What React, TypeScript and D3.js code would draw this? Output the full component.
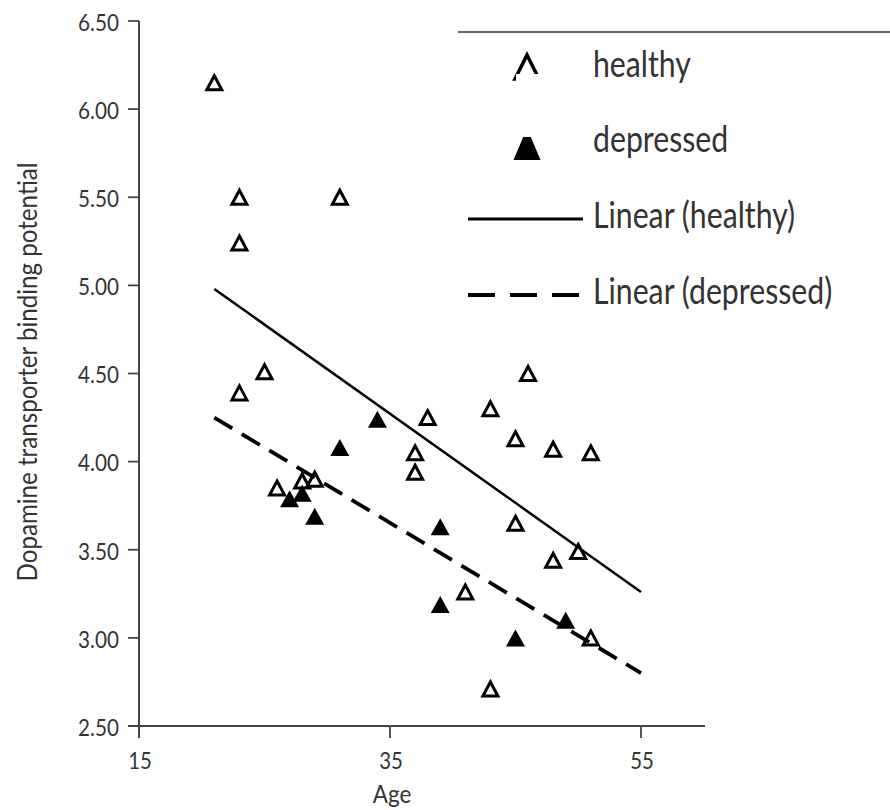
import React from "react";
import * as d3 from "d3";

const healthyAge = [21, 23, 23, 31, 23, 25, 26, 28, 29, 38, 43, 37, 37, 45, 48, 51, 45, 48, 50, 41, 51, 43, 46];
const healthyBP = [6.15, 5.5, 5.24, 5.5, 4.39, 4.51, 3.85, 3.89, 3.9, 4.25, 4.3, 4.05, 3.94, 4.13, 4.07, 4.05, 3.65, 3.44, 3.49, 3.26, 3.0, 2.71, 4.5];

const depressedAge = [34, 39, 39, 45, 49, 31, 27, 28, 29];
const depressedBP = [4.24, 3.63, 3.19, 3.0, 3.1, 4.08, 3.79, 3.82, 3.69];

// trendline endpoints [age, value]
const healthyTrend: [number, number][] = [[21, 4.98], [55, 3.26]];
const depressedTrend: [number, number][] = [[21, 4.25], [55, 2.8]];

const yTickValues = [2.5, 3.0, 3.5, 4.0, 4.5, 5.0, 5.5, 6.0, 6.5];
const xTickValues = [15, 35, 55];

const legendLabels = ["healthy", "depressed", "Linear (healthy)", "Linear (depressed)"];
const xTitle = "Age";
const yTitle = "Dopamine transporter binding potential";

const FONT = "Lato, 'Open Sans', sans-serif";
const TEXT = "#333";

function tri(cx: number, cy: number, w: number, h: number) {
  return `M${cx},${cy - h / 2}L${cx + w / 2},${cy + h / 2}L${cx - w / 2},${cy + h / 2}Z`;
}

export default function App() {
  const x = d3.scaleLinear().domain([15, 55]).range([139, 641]);
  const y = d3.scaleLinear().domain([2.5, 6.5]).range([726, 21]);
  const fmt = d3.format(".2f");
  const line = d3
    .line<[number, number]>()
    .x((d) => x(d[0]))
    .y((d) => y(d[1]));

  const axisColor = "#444";
  const legendY = [77, 152, 228, 304];

  return (
    <svg
      width={890}
      height={810}
      style={{ position: "absolute", left: 0, top: 0, background: "#fff" }}
      fontFamily={FONT}
    >
      <rect x={0} y={0} width={890} height={810} fill="#fff" />

      {/* legend top rule */}
      <line x1={458} x2={890} y1={32} y2={32} stroke="#666" strokeWidth={2} />

      {/* axes */}
      <line x1={x(15)} x2={x(15)} y1={y(6.5)} y2={738} stroke={axisColor} strokeWidth={2} />
      <line x1={128} x2={705} y1={y(2.5)} y2={y(2.5)} stroke={axisColor} strokeWidth={1.8} />
      {yTickValues.map((v) => (
        <g key={"yt" + v}>
          <line x1={128} x2={x(15)} y1={y(v)} y2={y(v)} stroke={axisColor} strokeWidth={1.8} />
          <text
            transform={`translate(119,${y(v) + 9.8}) scale(0.9,1)`}
            textAnchor="end"
            fontSize={23}
            fill={TEXT}
          >
            {fmt(v)}
          </text>
        </g>
      ))}
      {xTickValues.map((v) => (
        <g key={"xt" + v}>
          {v !== 15 && (
            <line x1={x(v)} x2={x(v)} y1={y(2.5)} y2={738} stroke={axisColor} strokeWidth={1.8} />
          )}
          <text
            transform={`translate(${x(v) + 1},769) scale(0.85,1)`}
            textAnchor="middle"
            fontSize={24}
            fill={TEXT}
          >
            {v}
          </text>
        </g>
      ))}
      <text
        transform={`translate(${x(35) + 2},803) scale(0.9,1)`}
        textAnchor="middle"
        fontSize={25}
        fill={TEXT}
      >
        {xTitle}
      </text>
      <text
        transform={`translate(37,372) rotate(-90)`}
        textAnchor="middle"
        fontSize={26}
        fill={TEXT}
        textLength={419}
        lengthAdjust="spacingAndGlyphs"
      >
        {yTitle}
      </text>

      {/* trend lines */}
      <path d={line(healthyTrend) || ""} fill="none" stroke="#000" strokeWidth={2.5} />
      <path
        d={line(depressedTrend) || ""}
        fill="none"
        stroke="#000"
        strokeWidth={3.8}
        strokeDasharray="21 11"
      />

      {/* points */}
      {healthyAge.map((a, i) => (
        <path
          key={"h" + i}
          d={tri(x(a), y(healthyBP[i]), 15, 14)}
          fill="none"
          stroke="#000"
          strokeWidth={3}
          strokeLinejoin="miter"
        />
      ))}
      {depressedAge.map((a, i) => (
        <path key={"d" + i} d={tri(x(a), y(depressedBP[i]), 19, 17)} fill="#000" />
      ))}

      {/* legend */}
      <path d={tri(527, 67, 24, 24)} fill="none" stroke="#000" strokeWidth={3.5} />
      <path d={tri(527, 144, 27, 32)} fill="#000" />
      <rect x={516} y={74} width={33} height={63} fill="#fff" />
      <line x1={468} x2={583} y1={219} y2={219} stroke="#000" strokeWidth={3} />
      <line x1={468} x2={583} y1={295} y2={295} stroke="#000" strokeWidth={4} strokeDasharray="27 15" />
      {legendLabels.map((t, i) => (
        <text
          key={"l" + i}
          transform={`translate(593,${legendY[i]}) scale(0.84,1)`}
          fontSize={36}
          fill={TEXT}
        >
          {t}
        </text>
      ))}
    </svg>
  );
}
